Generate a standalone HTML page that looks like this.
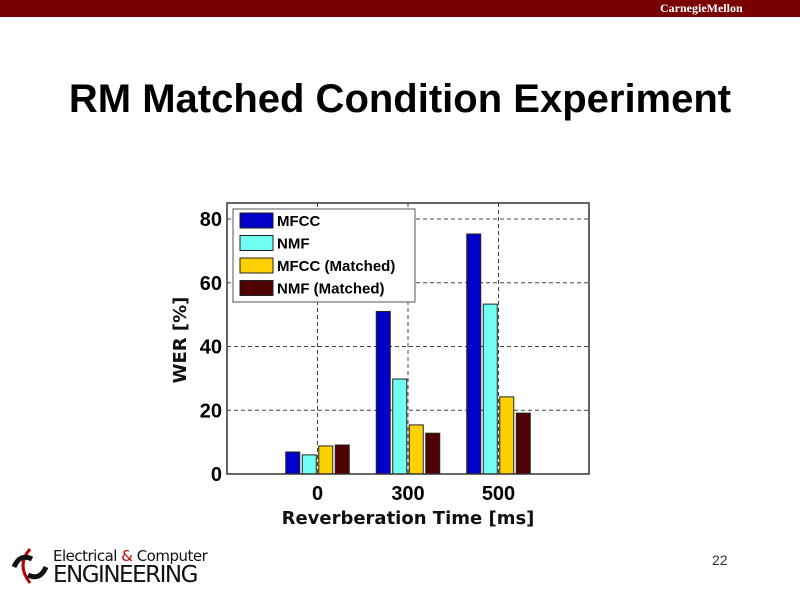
<!DOCTYPE html>
<html><head><meta charset="utf-8"><style>
body{margin:0;width:800px;height:599px;background:#fff;overflow:hidden;font-family:"Liberation Sans",sans-serif;position:relative}
</style></head><body>
<div style="position:absolute;left:0;top:0;width:800px;height:17px;background:#7a0000"></div>
<div style="position:absolute;left:660px;top:1px;color:#fff;font:bold 12px 'Liberation Serif',serif">CarnegieMellon</div>
<div style="position:absolute;left:0;width:800px;top:77px;text-align:center;font:bold 40px 'Liberation Sans',sans-serif;color:#000;white-space:nowrap">RM Matched Condition Experiment</div>
<svg id="chart" width="800" height="599" style="position:absolute;left:0;top:0"></svg>
<div style="position:absolute;left:10px;top:545px;width:200px;height:45px;white-space:nowrap">
<svg width="40" height="42" style="position:absolute;left:0;top:0"><path d="M20 4 Q6 20 20 38" stroke="#b00" stroke-width="3" fill="none"/><path d="M4 22 Q10 8 22 14 M36 22 Q30 36 18 30" stroke="#111" stroke-width="5" fill="none"/></svg>
<div style="position:absolute;left:43px;top:2px;font:15px 'DejaVu Sans',sans-serif;color:#111;letter-spacing:-0.5px">Electrical <span style="color:#b00">&amp;</span> Computer</div>
<div style="position:absolute;left:43px;top:17px;font:23px 'DejaVu Sans',sans-serif;color:#111;letter-spacing:-1.5px">ENGINEERING</div>
</div>
<div style="position:absolute;left:712px;top:552px;font:14px 'Liberation Sans',sans-serif;color:#333">22</div>
<script>
const categories=["0","300","500"];
const seriesNames=["MFCC","NMF","MFCC (Matched)","NMF (Matched)"];
const mfcc=[6.9,51,75.3];
const nmf=[6,29.8,53.3];
const mfccMatched=[8.8,15.4,24.2];
const nmfMatched=[9.1,12.8,19.1];
const yTicks=[0,20,40,60,80];
const colors=["#0000c8","#70fff0","#ffd000","#500000"];
const series=[mfcc,nmf,mfccMatched,nmfMatched];
const svg=document.getElementById('chart');
const NS="http://www.w3.org/2000/svg";
const L=227,R=589,T=203,B=474;
const xs=i=>L+(i+1)*(R-L)/4;
const ys=v=>B-v*(B-219)/80;
function mk(t,a){const e=document.createElementNS(NS,t);for(const k in a)e.setAttribute(k,a[k]);svg.appendChild(e);return e;}
yTicks.forEach(v=>{if(v>0){const g=mk('line',{x1:L,x2:R,y1:ys(v),y2:ys(v),stroke:'#444','stroke-dasharray':'4,3','stroke-width':1});

}
const t=mk('text',{x:L-5,y:ys(v)+7,'text-anchor':'end','font-size':20,'font-weight':'bold','font-family':'Liberation Sans'});t.textContent=v;

});
categories.forEach((c,i)=>{const g=mk('line',{x1:xs(i),x2:xs(i),y1:T,y2:B,stroke:'#444','stroke-dasharray':'4,3','stroke-width':1});


const t=mk('text',{x:xs(i),y:500,'text-anchor':'middle','font-size':20,'font-weight':'bold','font-family':'Liberation Sans'});t.textContent=c;

});
const bw=14,pitch=16.5;
series.forEach((s,j)=>s.forEach((v,i)=>{const x=xs(i)+(j-1.5)*pitch-bw/2;
const r=mk('rect',{x:x,y:ys(v),width:bw,height:B-ys(v),fill:colors[j],stroke:'#222','stroke-width':1});

}));
const box=mk('rect',{x:L,y:T,width:R-L,height:B-T,fill:'none',stroke:'#333','stroke-width':1.5});


const lg=mk('rect',{x:233,y:209,width:182,height:93,fill:'#fff',stroke:'#555','stroke-width':1});


seriesNames.forEach((n,j)=>{const y=213+j*22.5;
const sw=mk('rect',{x:240,y:y,width:33,height:15,fill:colors[j],stroke:'#222'});


const t=mk('text',{x:277,y:y+13,'font-size':15,'font-weight':'bold','font-family':'Liberation Sans'});t.textContent=n;

});
const xl=mk('text',{x:408,y:524,'text-anchor':'middle','font-size':18,'font-weight':'bold','font-family':'DejaVu Sans','fill':'#111'});xl.textContent='Reverberation Time [ms]';


const yl=mk('text',{x:0,y:0,'text-anchor':'middle','font-size':18,'font-weight':'bold','font-family':'DejaVu Sans','fill':'#111',transform:'translate(186,340) rotate(-90)'});yl.textContent='WER [%]';


</script>
</body></html>
